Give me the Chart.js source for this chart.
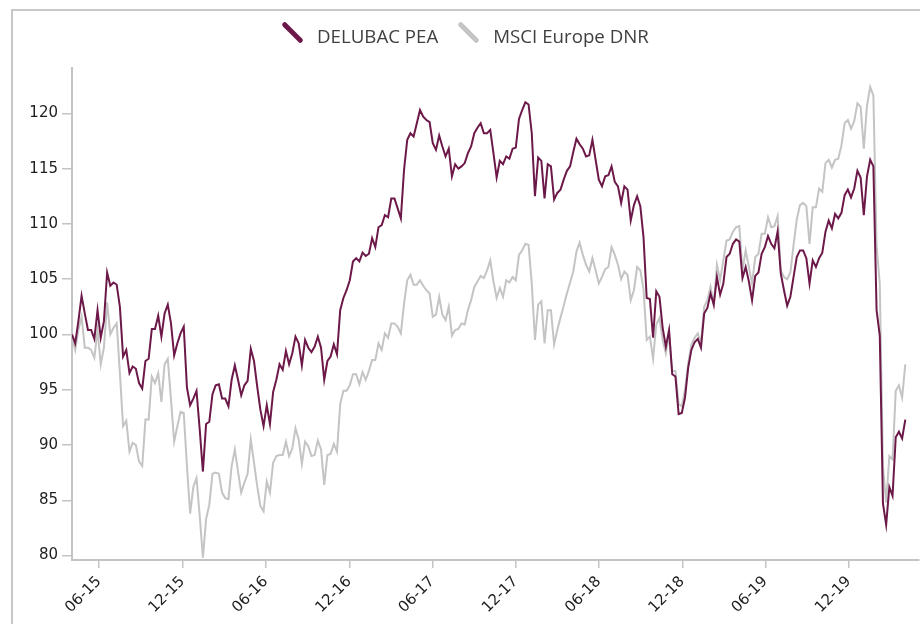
<!DOCTYPE html>
<html>
<head>
<meta charset="utf-8">
<script src="https://cdn.jsdelivr.net/npm/chart.js@4.4.1/dist/chart.umd.min.js"></script>
<style>
  html, body { margin: 0; padding: 0; background: #fff; overflow: hidden; }
  #frame { position: absolute; left: 11px; top: 9px; width: 2000px; height: 2000px; border: 2px solid #c8c8c8; }
  #chart { position: absolute; left: 0; top: 0; }
  #legend { position: absolute; left: 282px; top: 22px; display: flex; font-family: 'Open Sans', sans-serif; font-size: 18.7px; color: #404040; }
  .item { display: flex; height: 20px; margin-right: 20px; }
  .mark { width: 20px; height: 20px; position: relative; margin-right: 15px; }
  .mark span { position: absolute; left: -3.5px; top: 7.5px; width: 27px; height: 5px; border-radius: 2.5px; transform: rotate(45deg); }
  .label { line-height: 20px; position: relative; top: 4px; white-space: nowrap; }
</style>
</head>
<body>
<div id="frame"></div>
<canvas id="chart" width="920" height="624"></canvas>
<div id="legend"></div>
<script>
// weekly closes, base 100, first week of April 2015
const startDate = '2015-04-03';
const seriesNames = ['DELUBAC PEA', 'MSCI Europe DNR'];
const seriesColors = ['#6c1848', '#c4c4c4'];

const delubac = [
  100.0, 99.2, 101.2, 103.5, 101.9, 100.4, 100.4, 99.6, 102.2, 99.7,
  101.2, 105.6, 104.4, 104.7, 104.5, 102.5, 98.0, 98.6, 96.5, 97.1,
  96.9, 95.6, 95.1, 97.6, 97.8, 100.5, 100.5, 101.7, 99.8, 101.9,
  102.7, 101.0, 98.1, 99.2, 100.1, 100.7, 95.2, 93.6, 94.2, 94.9,
  91.4, 87.6, 91.9, 92.1, 94.6, 95.4, 95.5, 94.2, 94.2, 93.5,
  95.9, 97.2, 95.9, 94.5, 95.4, 95.8, 98.7, 97.6, 95.3, 93.2,
  91.7, 93.6, 91.9, 94.8, 95.9, 97.3, 96.8,
  98.5, 97.3, 98.3, 99.8, 99.2, 97.2, 99.5, 98.8, 98.4, 98.9,
  99.8, 98.8, 95.9, 97.6, 98.0, 99.1, 98.2, 102.2, 103.3, 104.0,
  104.9, 106.6, 106.9, 106.6, 107.4, 107.1, 107.3, 108.7, 107.9, 109.7,
  109.9, 110.8, 110.6, 112.3, 112.3, 111.4, 110.5, 114.9, 117.6, 118.2,
  117.9, 119.1, 120.3, 119.7, 119.4, 119.2, 117.3, 116.7, 118.0, 117.0,
  116.1, 116.8, 114.3, 115.4, 115.0, 115.2, 115.5, 116.4, 117.0, 118.2,
  118.7, 119.1, 118.2, 118.2, 118.5,
  116.4, 114.2, 115.7, 115.4, 116.1, 115.9, 116.8, 116.9, 119.5, 120.3,
  121.0, 120.8, 118.2, 112.5, 116.0, 115.7, 112.3, 115.4, 115.2, 112.2,
  112.8, 113.1, 114.0, 114.8, 115.2, 116.5, 117.7, 117.2, 116.8, 116.1,
  116.2, 117.6, 115.8, 114.0, 113.4, 114.3, 114.4, 115.2, 113.8, 113.4,
  111.9, 113.4, 113.1, 110.3, 111.7, 112.5, 111.6, 108.8, 103.3, 103.2,
  99.7, 103.9, 103.4, 100.6, 98.9, 100.4, 96.4, 96.2, 92.8, 92.9,
  94.3, 97.0, 98.6, 99.3, 99.6, 98.8, 101.9, 102.4, 103.7, 102.7,
  105.2, 103.6, 104.6, 107.0, 107.3, 108.2, 108.6, 108.4, 105.1, 106.1,
  104.8, 103.1, 105.3, 105.6, 107.3, 107.9, 108.9, 108.2, 107.8, 109.3,
  105.5, 104.0, 102.6, 103.4, 105.2, 107.0, 107.6, 107.6, 106.9, 104.6,
  106.7, 106.1, 106.9, 107.4, 109.3, 110.3, 109.6, 110.9, 110.5, 111.0,
  112.6, 113.1, 112.4, 113.2, 114.8, 114.2, 110.8, 114.3, 115.8, 115.2,
  102.2, 99.9, 84.7, 82.8, 86.2, 85.4, 90.7, 91.2, 90.6, 92.3
];

const msci = [
  99.8, 98.6, 100.4, 101.6, 98.8, 98.8, 98.6, 97.9, 100.4, 97.3,
  98.8, 102.9, 100.0, 100.6, 101.0, 96.5, 91.7, 92.2, 89.4, 90.2,
  90.0, 88.5, 88.1, 92.3, 92.3, 96.2, 95.6, 96.5, 93.9, 97.3,
  97.8, 94.1, 90.3, 91.7, 93.0, 92.9, 88.1, 83.8, 86.2, 87.0,
  83.6, 79.8, 83.3, 84.6, 87.4, 87.5, 87.4, 85.7, 85.2, 85.1,
  88.1, 89.6, 87.6, 85.7, 86.6, 87.4, 90.5, 88.4, 86.3, 84.5,
  84.0, 86.7, 85.7, 88.4, 89.0, 89.1, 89.1,
  90.3, 89.0, 89.7, 91.5, 90.5, 88.3, 90.3, 89.9, 89.0, 89.1,
  90.4, 89.6, 86.4, 89.1, 89.2, 90.1, 89.4, 93.7, 94.9, 94.9,
  95.4, 96.4, 96.4, 95.5, 96.6, 95.9, 96.7, 97.7, 97.7, 99.2,
  98.6, 100.1, 99.7, 101.0, 101.0, 100.7, 100.1, 102.8, 104.9, 105.4,
  104.5, 104.5, 104.9, 104.4, 104.0, 103.7, 101.6, 101.8, 103.4, 101.8,
  101.3, 102.5, 99.9, 100.4, 100.5, 101.0, 100.9, 102.2, 103.1, 104.3,
  104.8, 105.3, 105.1, 105.8, 106.7,
  104.8, 103.3, 104.2, 103.4, 104.9, 104.7, 105.2, 104.9, 107.2, 107.6,
  108.2, 108.1, 104.6, 99.5, 102.7, 103.0, 99.2, 102.2, 102.2, 99.1,
  100.4, 101.5, 102.6, 103.7, 104.7, 105.7, 107.5, 108.3, 107.2, 106.3,
  105.7, 106.9, 105.8, 104.6, 105.2, 105.9, 106.1, 107.9, 107.2, 106.3,
  105.0, 105.7, 105.4, 103.1, 104.0, 106.1, 105.8, 104.1, 99.5, 99.8,
  97.8, 100.9, 101.5, 99.5, 98.3, 100.0, 96.7, 96.7, 93.7, 93.5,
  95.0, 97.4, 99.1, 99.7, 100.1, 99.2, 102.5, 103.1, 104.3, 102.7,
  106.3, 104.9, 106.7, 108.5, 108.6, 109.3, 109.7, 109.8, 105.8, 107.6,
  106.1, 104.6, 107.0, 107.3, 109.1, 109.1, 110.6, 109.7, 109.8, 110.7,
  105.8, 105.2, 105.0, 105.6, 108.1, 110.4, 111.7, 111.9, 111.6, 108.2,
  111.5, 111.5, 113.2, 112.9, 115.5, 115.8, 115.1, 115.8, 115.9, 117.1,
  119.1, 119.4, 118.6, 119.3, 120.9, 120.6, 116.8, 120.7, 122.4, 121.6,
  108.0, 104.6, 88.0, 84.8, 89.0, 88.7, 94.9, 95.4, 94.3, 97.3
];

const xTickLabels = ['06-15', '12-15', '06-16', '12-16', '06-17', '12-17', '06-18', '12-18', '06-19', '12-19'];
const yTicks = [80, 85, 90, 95, 100, 105, 110, 115, 120];

const DAY = 86400000;
const t0 = Date.parse(startDate + 'T00:00:00Z');
// x is days since the first close
const xTickDays = xTickLabels.map(function (l) {
  const p = l.split('-');
  return (Date.parse('20' + p[1] + '-' + p[0] + '-01T00:00:00Z') - t0) / DAY;
});
const toPoints = arr => arr.map((v, i) => ({ x: i * 7, y: v }));

// legend
const legend = document.getElementById('legend');
seriesNames.forEach(function (name, i) {
  const item = document.createElement('div');
  item.className = 'item';
  item.innerHTML = '<div class="mark"><span style="background:' + seriesColors[i] + '"></span></div><div class="label"></div>';
  item.querySelector('.label').textContent = name;
  legend.appendChild(item);
});

const tickFont = { family: 'DejaVu Sans', size: 15 };
const axisGrey = '#c4c4c4';

const ctx = document.getElementById('chart').getContext('2d');
const chart = new Chart(ctx, {
  type: 'line',
  data: {
    datasets: [
      { label: seriesNames[0], data: toPoints(delubac), borderColor: seriesColors[0], borderWidth: 2, pointRadius: 0, tension: 0, fill: false },
      { label: seriesNames[1], data: toPoints(msci), borderColor: seriesColors[1], borderWidth: 2, pointRadius: 0, tension: 0, fill: false }
    ]
  },
  options: {
    responsive: false,
    animation: false,
    layout: { padding: { top: 68, right: 1, left: 0, bottom: 0 } },
    plugins: { legend: { display: false }, tooltip: { enabled: false } },
    scales: {
      x: {
        type: 'linear',
        min: 0,
        max: 1857,
        afterBuildTicks: s => { s.ticks = xTickDays.map(v => ({ value: v })); },
        afterFit: s => { s.height = 64; },
        grid: { drawOnChartArea: false, color: axisGrey, lineWidth: 1.5, tickLength: 8 },
        border: { display: true, color: axisGrey, width: 2 },
        ticks: {
          autoSkip: false, minRotation: 45, maxRotation: 45, padding: 5,
          font: tickFont, color: '#1e1e1e',
          callback: (v, i) => xTickLabels[i]
        }
      },
      y: {
        min: 79.6,
        max: 124.1,
        afterBuildTicks: s => { s.ticks = yTicks.map(v => ({ value: v })); },
        afterFit: s => { s.width = 72; },
        grid: { drawOnChartArea: false, color: axisGrey, lineWidth: 1.5, tickLength: 10 },
        border: { display: true, color: axisGrey, width: 2 },
        ticks: { padding: 4, font: tickFont, color: '#1e1e1e' }
      }
    }
  }
});
</script>
</body>
</html>
